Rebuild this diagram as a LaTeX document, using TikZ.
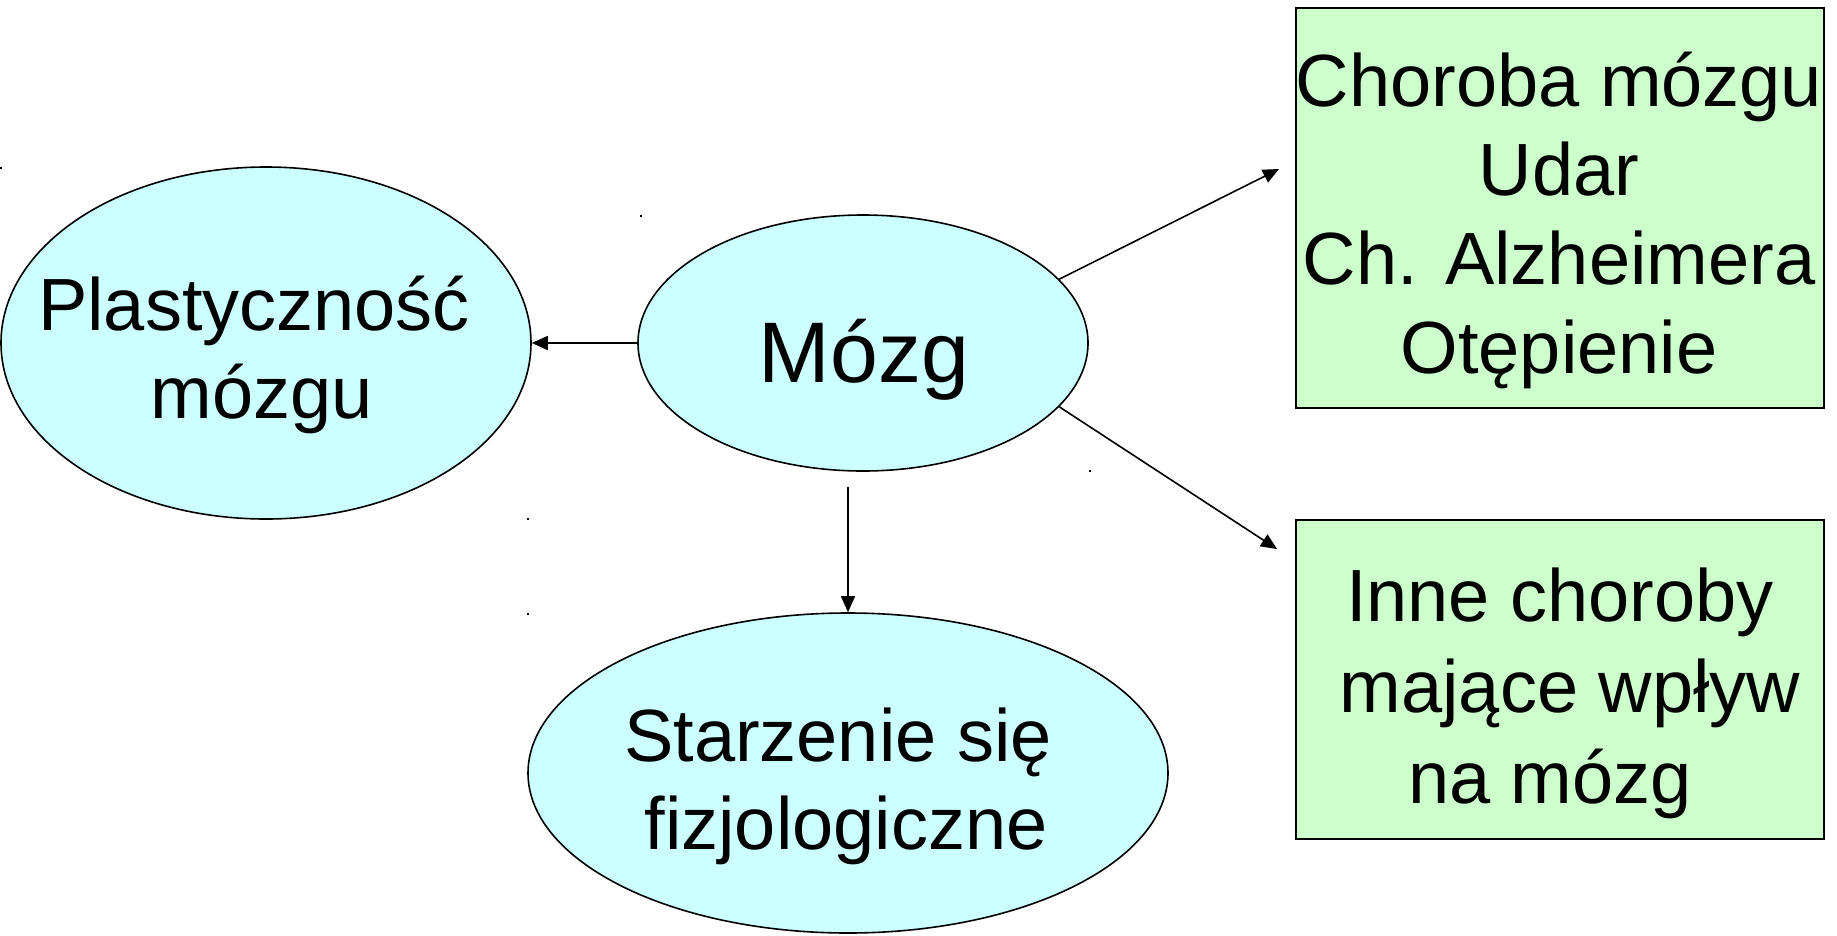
\documentclass[tikz,border=0pt]{standalone}
\usepackage{fontspec}
\setmainfont{Liberation Sans}
\usetikzlibrary{shapes.geometric,arrows.meta}
\definecolor{ovalfill}{HTML}{CCFFFF}
\definecolor{boxfill}{HTML}{CCFFCC}
\tikzset{
  oval/.style={ellipse, draw=black, line width=1.6pt, fill=ovalfill, inner sep=0pt},
  greenbox/.style={rectangle, draw=black, line width=1.8pt, fill=boxfill, inner sep=0pt},
  lbl/.style={align=center, inner sep=0pt, font={\fontsize{74}{88}\selectfont}},
  bigl/.style={align=center, inner sep=0pt, font={\fontsize{86}{100}\selectfont}},
  conn/.style={line width=1.6pt, -{Triangle[length=16pt,width=14pt]}},
  speck/.style={fill=black, draw=none, minimum size=2pt, inner sep=0pt, rectangle}
}
\begin{document}
\begin{tikzpicture}[x=1pt,y=-1pt]
\useasboundingbox (0,0) rectangle (1837,935);
% shapes
\node[oval, minimum width=530pt, minimum height=352pt] (plast) at (266,343) {};
\node[oval, minimum width=450pt, minimum height=256pt] (mozg) at (863,343) {};
\node[oval, minimum width=640pt, minimum height=320pt] (star) at (848,773) {};
\node[greenbox, minimum width=528pt, minimum height=400pt] (box1) at (1560,208) {};
\node[greenbox, minimum width=528pt, minimum height=319pt] (box2) at (1560,679.5) {};
% texts
\node[lbl] (plastt) at (262,355) {Plastyczność\hspace*{16pt}\\mózgu};
\node[bigl] (mozgt) at (864,360) {Mózg};
\node[lbl] (start) at (838,786) {Starzenie się\\\hspace*{16pt}fizjologiczne};
\node[lbl, font={\fontsize{74}{89}\selectfont}] (box1t) at (1559,220) {Choroba mózgu\\Udar\\Ch. Alzheimera\\Otępienie};
\node[lbl, font={\fontsize{74}{91}\selectfont}] (box2t) at (1560,693) {Inne choroby\\\hspace*{20pt}mające wpływ\\na mózg\hspace*{20pt}};
% connector ends
\coordinate (d0) at (848,487);
\coordinate (e1) at (1279,169);
\coordinate (e2) at (1277,549);
% connectors
\draw[conn] (mozg.west) -- (plast.east);
\draw[conn] (d0) -- (star.north);
\draw[conn] (mozg.18) -- (e1);
\draw[conn] (mozg.-18) -- (e2);
% stray specks
\node[speck] (s1) at (1,168) {};
\node[speck] (s2) at (641,216) {};
\node[speck] (s3) at (1090,471) {};
\node[speck] (s4) at (528,519) {};
\node[speck] (s5) at (528,614) {};
\end{tikzpicture}
\end{document}
